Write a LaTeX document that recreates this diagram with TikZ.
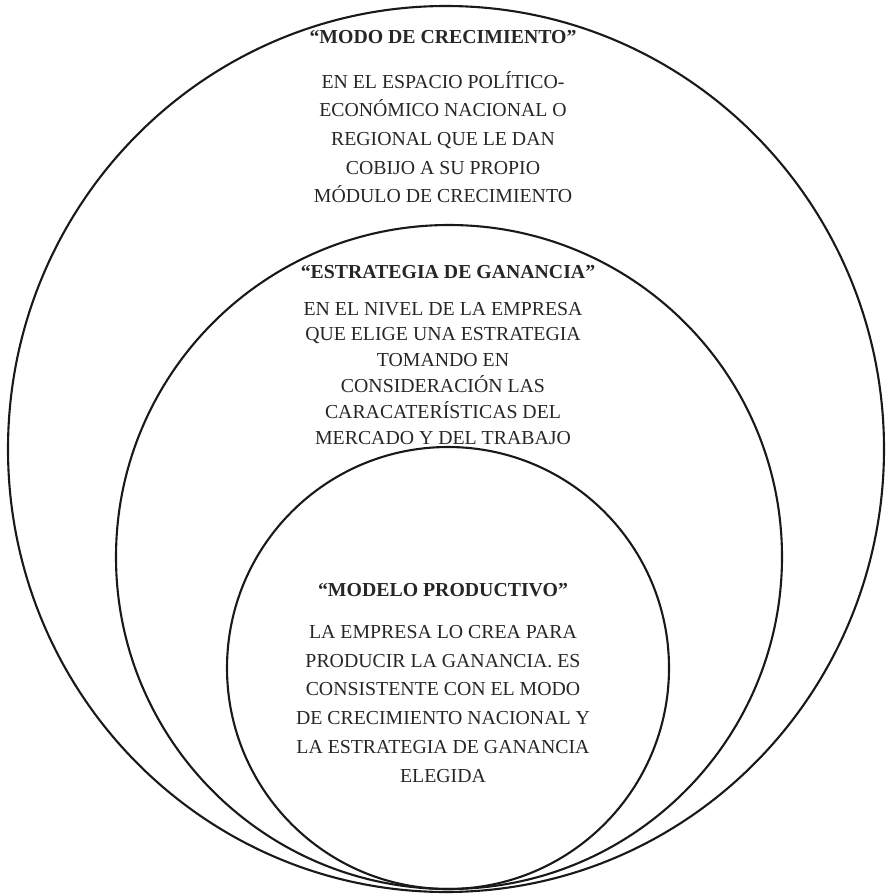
\documentclass[tikz,border=0pt]{standalone}
\usepackage{fontspec}
\setmainfont{Liberation Serif}
\usetikzlibrary{shapes.geometric}
\begin{document}
\begin{tikzpicture}[x=1pt,y=-1pt,
  ring/.style={draw=black!90,line width=2.1pt,ellipse,inner sep=0pt},
  head/.style={font=\fontsize{19.8}{28.7}\selectfont\bfseries,text=black!85,inner sep=0pt,anchor=base},
  body/.style={font=\fontsize{19.8}{28.7}\selectfont,text=black!85,align=center,inner sep=0pt,anchor=base},
  tight/.style={font=\fontsize{19.8}{25.8}\selectfont}]
\useasboundingbox (0,0) rectangle (886,896);
\node[ring,minimum width=876pt,minimum height=886pt] (outer) at (446,449) {};
\node[ring,minimum width=666pt,minimum height=664pt] (middle) at (449,557) {};
\node[ring,minimum width=442pt,minimum height=442pt] (inner) at (448,668) {};
\node[head] (h1) at (443,44) {“MODO DE CRECIMIENTO”};
\node[body] (b1) at (443,203) {EN EL ESPACIO POLÍTICO-\\ECONÓMICO NACIONAL O\\REGIONAL QUE LE DAN\\COBIJO A SU PROPIO\\MÓDULO DE CRECIMIENTO};
\node[head] (h2) at (448,278) {“ESTRATEGIA DE GANANCIA”};
\node[body,tight] (b2) at (443,444) {EN EL NIVEL DE LA EMPRESA\\QUE ELIGE UNA ESTRATEGIA\\TOMANDO EN\\CONSIDERACIÓN LAS\\CARACATERÍSTICAS DEL\\MERCADO Y DEL TRABAJO};
\node[head] (h3) at (443,596) {“MODELO PRODUCTIVO”};
\node[body] (b3) at (443,782) {LA EMPRESA LO CREA PARA\\PRODUCIR LA GANANCIA. ES\\CONSISTENTE CON EL MODO\\DE CRECIMIENTO NACIONAL Y\\LA ESTRATEGIA DE GANANCIA\\ELEGIDA};
\end{tikzpicture}
\end{document}
